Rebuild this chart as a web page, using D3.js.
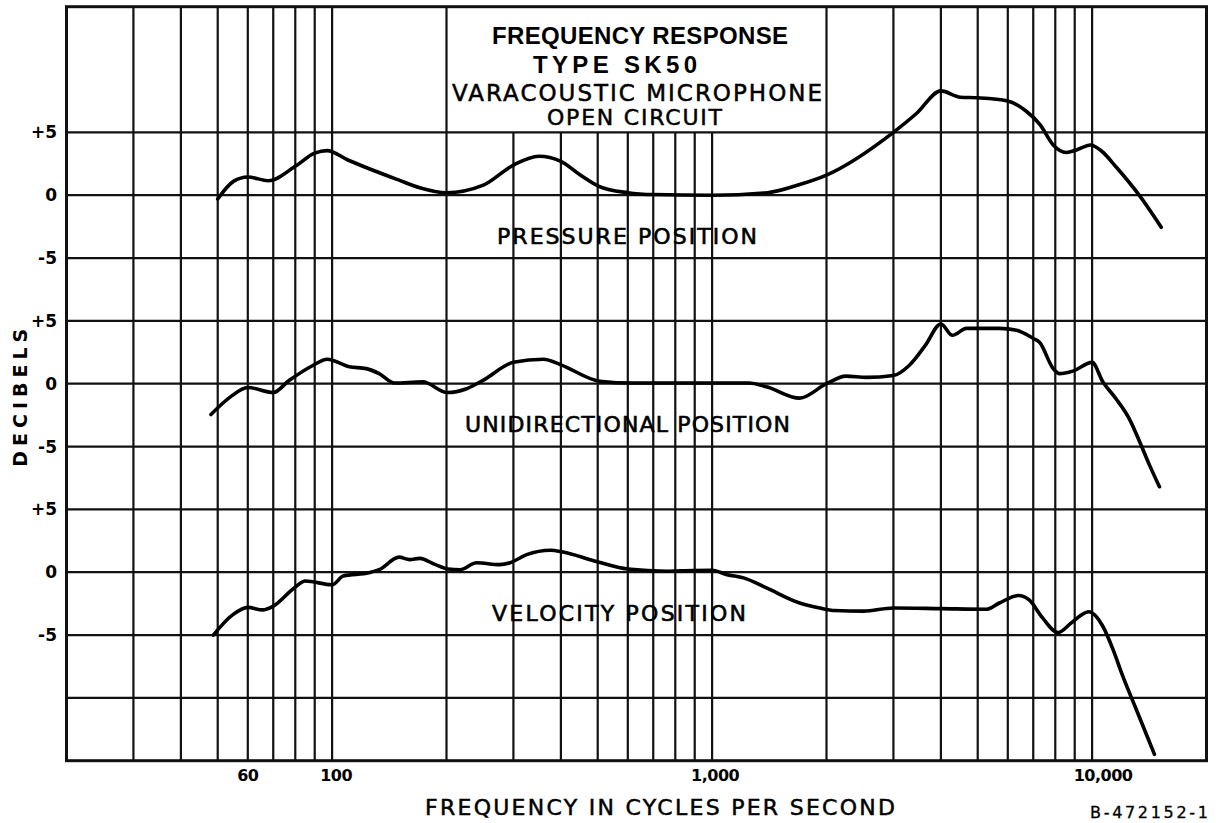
<!DOCTYPE html>
<html><head><meta charset="utf-8">
<script src="https://cdn.jsdelivr.net/npm/d3@7"></script>
<style>body{margin:0;background:#fff}svg{display:block}</style>
</head><body><svg id="c" width="1216" height="823"></svg>
<script>
// ---- data (frequency in Hz, response in dB) ----
const pressure = [[50,-0.3],[55,1.1],[60,1.45],[68,1.15],[80,2.3],[90,3.35],[97,3.55],[110,2.8],[150,1.2],[170,0.6],[200,0.2],[250,0.8],[300,2.4],[350,3.1],[400,2.7],[450,1.6],[500,0.75],[600,0.2],[700,0.05],[1000,0],[1400,0.2],[1700,0.85],[2000,1.6],[3000,5.0],[3450,6.5],[4000,8.3],[4500,7.8],[5000,7.75],[6000,7.5],[6700,6.7],[7300,5.6],[7900,4.0],[8550,3.4],[9100,3.6],[9900,4.0],[10600,3.5],[11600,2.2],[13300,0],[15200,-2.55]];
const unidirectional = [[48,-2.45],[54,-1.05],[60,-0.3],[70,-0.7],[77,0.25],[89,1.45],[97,1.95],[111,1.35],[123,1.2],[133,0.8],[146,0.05],[173,0.15],[201,-0.7],[226,-0.4],[249,0.25],[300,1.7],[360,1.95],[400,1.5],[506,0.2],[620,0.05],[1250,0.05],[1390,-0.25],[1700,-1.15],[2000,0],[2250,0.6],[2550,0.5],[3000,0.65],[3300,1.45],[3640,3.05],[4000,4.75],[4290,3.85],[4670,4.4],[5700,4.4],[6330,4.25],[7000,3.6],[7270,3.3],[7900,1.2],[8200,0.8],[8900,1.0],[10000,1.7],[10670,0.15],[11560,-1.2],[12530,-2.8],[13330,-4.6],[14170,-6.5],[15040,-8.2]];
const velocity = [[48.7,-5],[54.7,-3.4],[60,-2.8],[65.7,-3],[70,-2.7],[79.5,-1.25],[85,-0.7],[100,-1],[107,-0.3],[125,-0.05],[133,0.2],[150,1.2],[160,1.0],[170,1.1],[187,0.6],[202,0.25],[217,0.2],[240,0.75],[276,0.6],[294,0.75],[325,1.4],[376,1.75],[405,1.6],[490,0.9],[600,0.25],[760,0.08],[890,0.14],[1000,0.15],[1095,-0.2],[1210,-0.45],[1390,-1.25],[1700,-2.45],[1920,-2.85],[2100,-3.05],[2500,-3.1],[3000,-2.85],[4000,-2.9],[5260,-2.95],[5700,-2.45],[6400,-1.85],[6830,-2.2],[7390,-3.6],[8130,-4.8],[8800,-4.05],[9270,-3.5],[9800,-3.15],[10670,-4.3],[11400,-6.3],[12000,-8.15],[13000,-10.75],[14000,-13.15],[14590,-14.5]];

const panelNames = ["PRESSURE POSITION","UNIDIRECTIONAL POSITION","VELOCITY POSITION"];
const panelOffsets = [0,-15,-30];           // dB offset of each panel's 0 line on the common scale
const yTickValues = [5,0,-5];
const yTickLabels = ["+5","0","-5"];
const gridFreqs = [30,40,50,60,70,80,90,100,200,300,400,500,600,700,800,900,1000,2000,3000,4000,5000,6000,7000,8000,9000,10000];
const gridLevels = [5,0,-5,-10,-15,-20,-25,-30,-35,-40];
const xTicks = [60,100,1000,10000];
const xTickLabels = ["60","100","1,000","10,000"];
const titleLines = ["FREQUENCY RESPONSE","TYPE SK50","VARACOUSTIC MICROPHONE","OPEN CIRCUIT"];

// ---- layout ----
const L=66.5, R=1206.5, T=6.7, B=760.7;
const x = d3.scaleLog().domain([20,20000]).range([L,R]);
const y = d3.scaleLinear().domain([-45,15]).range([B,T]);
const svg = d3.select("#c");
const font = "'DejaVu Sans', 'Liberation Sans', sans-serif";
const font2 = "'Liberation Sans', Arial, sans-serif";

// horizontal grid
svg.append("g").selectAll("line").data(gridLevels).join("line")
  .attr("x1",L).attr("x2",R).attr("y1",d=>y(d)).attr("y2",d=>y(d))
  .attr("stroke","#111").attr("stroke-width",2.2);
// vertical grid (title box clears lines between 200 and 2000 above +5)
svg.append("g").selectAll("line").data(gridFreqs).join("line")
  .attr("x1",d=>x(d)).attr("x2",d=>x(d))
  .attr("y1",d=>(d>200&&d<2000)?y(5):T).attr("y2",B)
  .attr("stroke","#111").attr("stroke-width",2.2);
// frame
svg.append("rect").attr("x",L).attr("y",T).attr("width",R-L).attr("height",B-T)
  .attr("fill","none").attr("stroke","#111").attr("stroke-width",3);

// curves
const series=[pressure,unidirectional,velocity];
series.forEach((s,i)=>{
  const line=d3.line().x(d=>x(d[0])).y(d=>y(d[1]+panelOffsets[i])).curve(d3.curveMonotoneX);
  svg.append("path").datum(s).attr("d",line).attr("fill","none")
    .attr("stroke","#000").attr("stroke-width",3.6).attr("stroke-linejoin","round").attr("stroke-linecap","round");
});

// y tick labels
panelOffsets.forEach(off=>{
  yTickValues.forEach((v,j)=>{
    svg.append("text").attr("x",57).attr("y",y(v+off)).attr("dy","0.36em")
      .attr("text-anchor","end").attr("font-family",font).attr("font-weight","bold")
      .attr("font-size",17).text(yTickLabels[j]);
  });
});
// y axis title
svg.append("text").attr("transform",`translate(27,${y(-15)+14}) rotate(-90)`)
  .attr("text-anchor","middle").attr("font-family",font).attr("font-weight","bold")
  .attr("font-size",19).attr("textLength",138).attr("lengthAdjust","spacing").text("DECIBELS");

// x tick labels
const xdx=[0,4,3,11];
xTicks.forEach((f,i)=>{
  svg.append("text").attr("x",x(f)+xdx[i]).attr("y",781).attr("text-anchor","middle")
    .attr("font-family",font).attr("font-weight","bold").attr("font-size",16)
    .attr("letter-spacing",-0.5).text(xTickLabels[i]);
});
// x axis title
svg.append("text").attr("x",425).attr("y",815).attr("font-family",font)
  .attr("font-size",22).attr("stroke","#000").attr("stroke-width",0.5)
  .attr("textLength",470).attr("lengthAdjust","spacing")
  .text("FREQUENCY IN CYCLES PER SECOND");
svg.append("text").attr("x",1090).attr("y",818).attr("font-family",font)
  .attr("font-size",16).attr("stroke","#000").attr("stroke-width",0.3)
  .attr("textLength",118).attr("lengthAdjust","spacing")
  .text("B-472152-1");

// title
const tl=[{x:492,w:296,y:44,s:24,b:"bold",f:font2,sw:0},{x:533,w:164,y:73,s:24,b:"bold",f:font2,sw:0},
          {x:452,w:370,y:101,s:23,b:"normal",f:font,sw:0.5},{x:547,w:175,y:125,s:22,b:"normal",f:font,sw:0.5}];
titleLines.forEach((t,i)=>{
  svg.append("text").attr("x",tl[i].x).attr("y",tl[i].y).attr("font-family",tl[i].f)
    .attr("font-weight",tl[i].b).attr("font-size",tl[i].s)
    .attr("stroke","#000").attr("stroke-width",tl[i].sw)
    .attr("textLength",tl[i].w).attr("lengthAdjust","spacing").text(t);
});

// panel labels
const pl=[{x:497,w:260,y:244},{x:465,w:325,y:432},{x:492,w:254,y:621}];
panelNames.forEach((t,i)=>{
  svg.append("text").attr("x",pl[i].x).attr("y",pl[i].y).attr("font-family",font)
    .attr("font-size",22).attr("stroke","#000").attr("stroke-width",0.6)
    .attr("textLength",pl[i].w).attr("lengthAdjust","spacing").text(t);
});
</script></body></html>
